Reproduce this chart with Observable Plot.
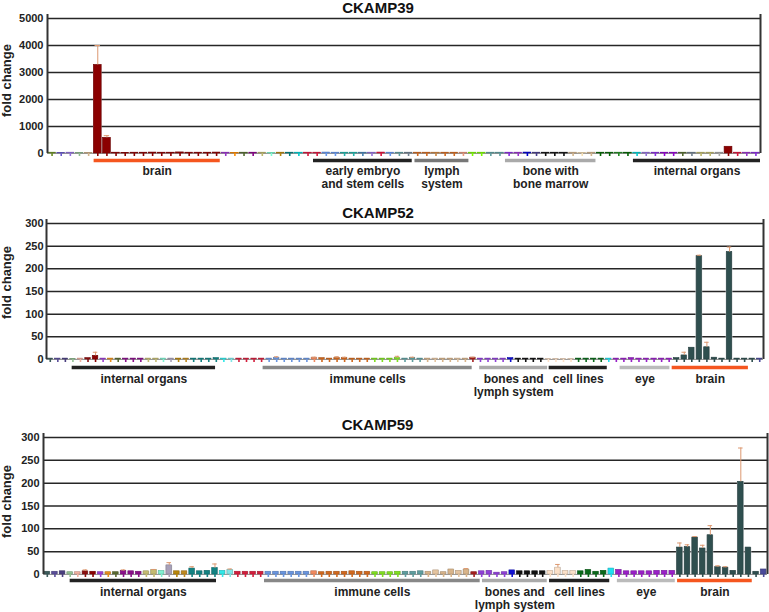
<!DOCTYPE html>
<html><head><meta charset="utf-8">
<script src="https://cdn.jsdelivr.net/npm/d3@7"></script>
<script src="https://cdn.jsdelivr.net/npm/@observablehq/plot@0.6"></script>
<style>
body{margin:0;background:#fff;}
#chart svg{display:block;}
</style></head><body><div id="chart"></div>
<script>
// ---------- DATA ----------
const titles = ["CKAMP39", "CKAMP52", "CKAMP59"];
const yTicks39 = [0, 1000, 2000, 3000, 4000, 5000];
const yTicks5x = [0, 50, 100, 150, 200, 250, 300];

// CKAMP39 (78 tissues)
const colors39 = [
  "#6b8e23","#6a5acd","#9370db","#8fbc8f","#d2b48c",
  "#8b0000","#8b0000","#8b0000","#8b0000","#8b0000","#8b0000","#8b0000",
  "#8b0000","#8b0000","#8b0000","#8b0000","#8b0000","#8b0000","#8b0000",
  "#9932cc","#ff8c00","#556b2f","#8b008b","#bdb76b","#7fffd4","#b8860b","#008080","#00ced1","#dc143c",
  "#dc143c","#6495ed","#6495ed","#20b2aa","#20b2aa","#4682b4","#9370db","#dc143c","#6495ed","#5f9ea0","#708090",
  "#d2691e","#d2691e","#cd853f","#d2691e","#d2691e","#e9967a",
  "#7cfc00","#7cfc00","#5f9ea0","#5f9ea0",
  "#8a2be2","#9932cc","#0000cd","#483d8b","#111111","#111111","#111111","#d2b48c","#f5deb3","#d2b48c",
  "#006400","#006400","#228b22","#006400",
  "#00ced1","#9370db","#8a2be2","#9400d3","#9400d3","#556b2f","#708090","#bdb76b","#bdb76b","#a9a9a9",
  "#8b0000","#dc143c","#9932cc","#8a2be2"
];
const values39 = [
  30,25,30,20,25,
  3280,580,30,25,30,30,35,30,30,40,30,30,30,35,
  30,25,30,30,30,25,30,30,30,30,
  30,35,30,30,30,30,30,35,30,30,30,
  30,30,30,30,30,30,
  30,30,30,30,
  30,30,35,30,30,30,30,30,25,30,
  30,30,30,30,
  30,30,30,30,30,30,30,30,30,30,
  250,30,30,30
];
const errors39 = values39.map((v, i) => ({5: 4000, 6: 660})[i] ?? null);

// CKAMP52 / CKAMP59 (95 tissues, same order)
const colors5x = [
  "#3d5c5c","#5b4f9a","#4a3f80","#93c193","#f0b0a0","#8b1010","#8b0000","#9b3fd0","#e8901c","#5a6b30",
  "#8b0f8b","#8b0f8b","#8b0f8b","#c4bb72","#c4bb72","#80f0d0","#a8a0b8","#b8860b","#c08a20","#138282",
  "#138282","#138282","#138282","#30e8e8","#7fe6e6","#d41e3c","#d41e3c","#d41e3c","#d41e3c","#6a96e0",
  "#6a96e0","#6a96e0","#6a96e0","#6a96e0","#6a96e0","#f08a60","#d2691e","#d2691e","#d2691e","#d2691e",
  "#d2691e","#d2691e","#d2691e","#80e020","#80e020","#80e020","#80e020","#5f9ea0","#5f9ea0","#5f9ea0",
  "#d8b48a","#e4c4a0","#d8b48a","#d8b48a","#e4c4a0","#d8b48a","#a52020","#9040d8","#9040d8","#9040d8",
  "#9040d8","#1010d0","#111111","#111111","#111111","#111111","#fbe0c8","#fbe0c8","#fbe0c8","#fbe0c8",
  "#0a6a1a","#0a6a1a","#0a6a1a","#0a6a1a","#20e0f0","#9a20c8","#9a20c8","#9a20c8","#9a20c8","#9a20c8",
  "#9a20c8","#9a20c8","#9a20c8","#2f4f4f","#2f4f4f","#2f4f4f","#2f4f4f","#2f4f4f","#2f4f4f","#2f4f4f",
  "#2f4f4f","#2f4f4f","#2f4f4f","#2f4f4f","#4a4a9a"
];
const values52 = [
  2,2,2,1.5,2,3,8,2,2,2,
  2,2,2,2,2,2,2,2,2,2,
  2,2,3,2,2,2,2,2,2,2,
  3,2,2,2,2,4,3,2,3,3,
  2,2,2,2,2,2,3,2,3,2,
  2,2,2,2,2,2,4,2,2,2,
  2,3,2,2,2,2,1,1,1,1,
  2,2,2,2,2,2,2,3,2,2,
  2,2,2,3,9,26,228,27,4,2,
  237,2,2,2,2
];
const errors52 = values52.map((v, i) => ({6: 16, 30: 6, 35: 5, 38: 6, 39: 5, 46: 7, 48: 5, 56: 5, 84: 16, 86: 230, 87: 38, 90: 248})[i] ?? null);
const values59 = [
  6,6,7,5,5,7,6,5,5,5,
  8,7,6,7,10,8,20,7,7,13,
  7,8,14,8,10,6,6,6,6,6,
  6,6,6,6,6,7,5,6,6,6,
  7,6,6,5,5,5,6,6,6,7,
  6,9,5,11,8,11,5,7,8,4,
  5,9,7,7,7,7,8,15,8,8,
  7,10,6,8,13,10,7,7,7,7,
  8,8,8,59,60,81,57,86,16,15,
  8,203,59,6,11
];
const errors59 = values59.map((v, i) => ({5: 10, 10: 10, 14: 11, 16: 26, 19: 17, 22: 23, 24: 12, 55: 13, 67: 22, 83: 69, 84: 65, 85: 83, 86: 64, 87: 107, 88: 19, 89: 17, 91: 277})[i] ?? null);

// tissue groups (in bar-index units)
const groupLabels39 = ["brain", "early embryo\nand stem cells", "lymph\nsystem", "bone with\nbone marrow", "internal organs"];
const groupStart39 = [5.1, 29.1, 40.2, 50.1, 64.1];
const groupEnd39 = [18.9, 39.9, 46.1, 60, 78];
const groupColors39 = ["#f5561f", "#222222", "#777777", "#aaaaaa", "#222222"];

const groupLabels5x = ["internal organs", "immune cells", "bones and\nlymph system", "cell lines", "eye", "brain"];
const groupStart52 = [3.4, 28.7, 57.4, 66.6, 76, 82.9];
const groupEnd52 = [22.4, 56.4, 66.4, 74.3, 82.6, 93];
const groupStart59 = [3.5, 29, 57.6, 66.4, 75.3, 83.2];
const groupEnd59 = [22.7, 57.3, 66.1, 74.3, 82.9, 93];
const groupColors5x = ["#222222", "#888888", "#aaaaaa", "#222222", "#bbbbbb", "#f5561f"];

// ---------- DRAW ----------
const errColor = "#dc9870";
const font = "'Liberation Sans', Arial, Helvetica, sans-serif";

function panel(cfg) {
  const bars = cfg.values.map((v, i) => ({i, v, e: cfg.errors[i], c: cfg.colors[i]}));
  const errs = bars.filter(d => d.e != null);
  const groups = cfg.labels.map((label, k) => ({label, s: cfg.starts[k], e: cfg.ends[k], c: cfg.gcolors[k]}));
  const N = bars.length;
  return Plot.plot({
    width: 769,
    height: cfg.height,
    marginTop: cfg.mt, marginBottom: cfg.mb, marginLeft: cfg.ml, marginRight: cfg.mr,
    style: {fontFamily: font, background: "#fff", color: "#222", overflow: "visible"},
    x: {domain: [0, N], axis: null},
    y: {domain: [0, cfg.ymax]},
    color: {type: "identity"},
    marks: [
      Plot.ruleY(cfg.ticks.filter(t => t > 0), {stroke: "#262626", strokeWidth: 1.5}),
      Plot.ruleY([0], {stroke: "#999", strokeWidth: 1}),
      Plot.rect(bars, {x1: "i", x2: d => d.i + 1, y1: 0, y2: "v", fill: "#cdd1d4", insetLeft: cfg.shadowInset, insetRight: cfg.shadowInset}),
      Plot.rect(bars, {x1: "i", x2: d => d.i + 1, y1: 0, y2: "v", fill: "c", stroke: d => d3.color(d.c).darker(0.6).formatHex(), strokeWidth: 0.6, insetLeft: cfg.barInset, insetRight: cfg.barInset}),
      Plot.ruleX(bars, {x: d => d.i + 0.5, y1: 0, y2: 0, stroke: "c", strokeWidth: 1.6, insetBottom: -3}),
      Plot.ruleX(errs, {x: d => d.i + 0.5, y1: "v", y2: "e", stroke: errColor, strokeWidth: 1}),
      Plot.ruleY(errs, {x1: d => d.i + 0.2, x2: d => d.i + 0.8, y: "e", stroke: errColor, strokeWidth: 1}),
      Plot.ruleX([0], {stroke: "#333", strokeWidth: 2, insetTop: -4}),
      Plot.ruleX([N], {stroke: "#333", strokeWidth: 2, insetTop: -4}),
      Plot.axisY({ticks: cfg.ticks, tickSize: 0, tickPadding: cfg.tickPad, tickFormat: d => String(d), fontSize: 11, fontWeight: "bold", label: null}),
      Plot.ruleY(groups, {x1: "s", x2: "e", y: 0, dy: cfg.lineDy, stroke: "c", strokeWidth: 3.5}),
      Plot.text(groups, {x: d => (d.s + d.e) / 2, y: 0, dy: cfg.textDy, text: "label", lineAnchor: "top", lineHeight: 1.1, fontSize: 12, fontWeight: "bold", fill: "#222"}),
      Plot.text([cfg.title], {text: d => d, frameAnchor: "top", dx: cfg.titleDx, dy: cfg.titleDy, lineAnchor: "middle", textAnchor: "middle", fontSize: 15, fontWeight: "bold", fill: "#111"}),
      Plot.text(["fold change"], {text: d => d, frameAnchor: "left", dx: cfg.labelDx, dy: cfg.labelDy, rotate: -90, textAnchor: "middle", lineAnchor: "middle", fontSize: 13, fontWeight: "bold", fill: "#222"})
    ]
  });
}

const root = document.getElementById("chart");
root.append(panel({
  title: titles[0], values: values39, errors: errors39, colors: colors39,
  labels: groupLabels39, starts: groupStart39, ends: groupEnd39, gcolors: groupColors39,
  ticks: yTicks39, ymax: 5000,
  height: 197, mt: 18, mb: 44, ml: 47, mr: 9, tickPad: 4,
  titleDx: -26, titleDy: -10.5, labelDx: -41, labelDy: -5.5, lineDy: 7, textDy: 12,
  barInset: 0.7, shadowInset: 0.3
}));
root.append(panel({
  title: titles[1], values: values52, errors: errors52, colors: colors5x,
  labels: groupLabels5x, starts: groupStart52, ends: groupEnd52, gcolors: groupColors5x,
  ticks: yTicks5x, ymax: 300,
  height: 213, mt: 26, mb: 51, ml: 46, mr: 6, tickPad: 3,
  titleDx: -27, titleDy: -10.5, labelDx: -40, labelDy: -9, lineDy: 8, textDy: 14,
  barInset: 1.1, shadowInset: 0.4
}));
root.append(panel({
  title: titles[2], values: values59, errors: errors59, colors: colors5x,
  labels: groupLabels5x, starts: groupStart59, ends: groupEnd59, gcolors: groupColors5x,
  ticks: yTicks5x, ymax: 300,
  height: 202, mt: 27, mb: 38, ml: 43, mr: 2, tickPad: 4,
  titleDx: -28, titleDy: -12, labelDx: -37, labelDy: -4.5, lineDy: 6, textDy: 12,
  barInset: 1.1, shadowInset: 0.4
}));
</script></body></html>
